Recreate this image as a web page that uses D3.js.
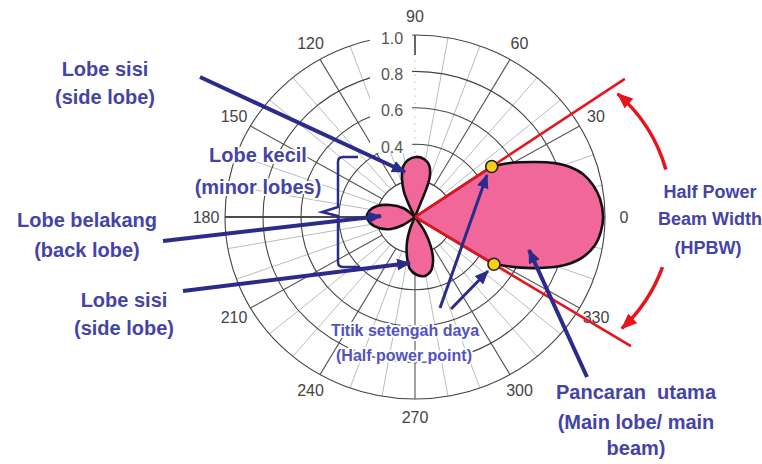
<!DOCTYPE html>
<html><head><meta charset="utf-8">
<script src="https://cdn.jsdelivr.net/npm/d3@7"></script>
<style>
html,body{margin:0;padding:0;background:#fff;}
svg{display:block;font-family:"Liberation Sans",Arial,sans-serif;}
</style></head>
<body>
<svg id="chart" width="762" height="464"></svg>
<script>
// ---------- DATA ----------
const angleTicks = [0,30,60,90,120,150,180,210,240,270,300,330];
const angleTickLabels = ["0","30","60","90","120","150","180","210","240","270","300","330"];
const radialTicks = [0.2,0.4,0.6,0.8,1.0];
const radialTickLabels = ["","0.4","0.6","0.8","1.0"];

// main lobe outline (degrees, normalized field)
const mainAngles = [34.5,30.7,25.6,21.9,18.6,15.0,10.6,5.8,0,-4.5,-9.2,-14.0,-18.5,-23.1,-27.6,-32];
const mainR      = [0.49,0.581,0.700,0.794,0.861,0.915,0.953,0.979,0.99,0.982,0.960,0.911,0.832,0.715,0.594,0.49];
// upper side lobe
const upperAngles = [120,115.6,112.8,108.1,103.0,96.7,89.1,81.5,75.5,71.1,69.0,69.0,65];
const upperR      = [0,0.073,0.149,0.220,0.282,0.315,0.330,0.322,0.295,0.244,0.177,0.088,0];
// back lobe
const backAngles = [135,142,153.4,163.2,172.2,180,187.9,197.7,207.6,214.8,225];
const backR      = [0,0.080,0.147,0.209,0.244,0.253,0.239,0.199,0.142,0.077,0];
// lower side lobe
const lowerAngles = [245,248.2,253,259.2,264.7,271.9,279.2,285.8,291.4,297.1,302.6,305];
const lowerR      = [0,0.071,0.144,0.224,0.287,0.319,0.328,0.308,0.260,0.185,0.098,0];
// half power points & beam edge lines
const hpAngles = [34.5,-32];
const hpR      = [0.49,0.49];
const beamLineR = [1.34,1.34];

// ---------- LAYOUT ----------
const cx = 415, cy = 217, RX = 190, RY = 182;
const svg = d3.select("#chart");
const x = d3.scaleLinear().domain([-1,1]).range([cx-RX, cx+RX]);
const y = d3.scaleLinear().domain([-1,1]).range([cy+RY, cy-RY]);
const rad = a => a*Math.PI/180;
const px = (a,r) => x(r*Math.cos(rad(a)));
const py = (a,r) => y(r*Math.sin(rad(a)));

const grid = svg.append("g");
// spokes every 10 degrees
d3.range(0,360,10).forEach(a=>{
  const major = a%30===0;
  if (a===90) {
    grid.append("line").attr("x1",px(a,0.2)).attr("y1",py(a,0.2)).attr("x2",px(a,0.88)).attr("y2",py(a,0.88))
      .attr("stroke","#999").attr("stroke-width",1).attr("stroke-dasharray","1,6");
    grid.append("line").attr("x1",px(a,0.89)).attr("y1",py(a,0.89)).attr("x2",px(a,1)).attr("y2",py(a,1))
      .attr("stroke","#333").attr("stroke-width",1.5);
    return;
  }
  grid.append("line")
    .attr("x1",px(a, a===180?0.15:0.2)).attr("y1",py(a,a===180?0.15:0.2))
    .attr("x2",px(a,1)).attr("y2",py(a,1))
    .attr("stroke", a===180 ? "#111" : (major ? "#555" : "#aaa"))
    .attr("stroke-width", a===180 ? 1.4 : (major ? 1.1 : 0.8));
});
// rings
radialTicks.forEach(r=>{
  grid.append("ellipse").attr("cx",x(0)).attr("cy",y(0))
    .attr("rx",x(r)-x(0)).attr("ry",y(0)-y(r))
    .attr("fill","none").attr("stroke","#444").attr("stroke-width",1.1);
});
// clear area behind radial labels
grid.append("rect").attr("x",370).attr("y",y(1)-9).attr("width",42).attr("height",y(0.4)-y(1)+18).attr("fill","#fff");
radialTicks.forEach((r,i)=>{
  if(!radialTickLabels[i]) return;
  grid.append("text").attr("x",392).attr("y",y(r)+3)
    .attr("text-anchor","middle").attr("dominant-baseline","central")
    .attr("font-size",16).attr("fill","#555").text(radialTickLabels[i]);
});
angleTicks.forEach((a,i)=>{
  grid.append("text").attr("x",px(a,1.1)).attr("y",py(a,1.1))
    .attr("text-anchor","middle").attr("dominant-baseline","central")
    .attr("font-size",16).attr("fill","#444").text(angleTickLabels[i]);
});

// ---------- LOBES ----------
const line = d3.line().x(d=>px(d[0],d[1])).y(d=>py(d[0],d[1])).curve(d3.curveCatmullRom.alpha(0.5));
const lobeStyle = sel => sel.attr("fill","#f2679a").attr("stroke","#111").attr("stroke-width",2.6).attr("stroke-linejoin","round");
[[upperAngles,upperR],[backAngles,backR],[lowerAngles,lowerR]].forEach(([A,R])=>{
  const pts = A.map((a,i)=>[a,R[i]]);
  svg.append("path").attr("d", line(pts)+"Z").call(lobeStyle);
});
const mainPts = mainAngles.map((a,i)=>[a,mainR[i]]);
svg.append("path").attr("d", `M${x(0)},${y(0)}L` + line(mainPts).slice(1) + "Z").call(lobeStyle);

// beam edge red lines
hpAngles.forEach((a,i)=>{
  svg.append("line").attr("x1",x(0)).attr("y1",y(0)).attr("x2",px(a,beamLineR[i])).attr("y2",py(a,beamLineR[i]))
    .attr("stroke","#e8141c").attr("stroke-width",2.6);
});

// ---------- ANNOTATIONS ----------
const defs = svg.append("defs");
function marker(id,color,w,h){
  defs.append("marker").attr("id",id).attr("viewBox",`0 0 ${w} ${h}`).attr("refX",w-1).attr("refY",h/2)
    .attr("markerWidth",w).attr("markerHeight",h).attr("markerUnits","userSpaceOnUse").attr("orient","auto")
    .append("path").attr("d",`M0,0L${w},${h/2}L0,${h}Z`).attr("fill",color);
}
marker("ab","#2b2b8c",14,12);
marker("ar","#e8141c",16,13);

// HPBW arc
const arcC = [514,213], arcR = 158;
function arcPath(a0,a1){
  const p = d3.path();
  p.arc(arcC[0],arcC[1],arcR,-rad(a0),-rad(a1),a1>a0);
  return p.toString();
}
svg.append("path").attr("d",arcPath(16,49)).attr("fill","none").attr("stroke","#e8141c").attr("stroke-width",3.5).attr("marker-end","url(#ar)");
svg.append("path").attr("d",arcPath(-20,-47)).attr("fill","none").attr("stroke","#e8141c").attr("stroke-width",3.5).attr("marker-end","url(#ar)");

// texts (drawn with white halo, beneath arrows)
const texts = [
  ["Lobe sisi",105,69,20],["(side lobe)",105,97,20],
  ["Lobe kecil",258,155,20],["(minor lobes)",258,187,20],
  ["Lobe belakang",87,220,20],["(back lobe)",87,250,20],
  ["Lobe sisi",124,300,20],["(side lobe)",124,328,20],
  ["Titik setengah daya",405,330,16],["(Half power point)",404,355,16],
  ["Pancaran  utama",636,392,20],["(Main lobe/ main",636,422,20],["beam)",636,448,20],
  ["Half Power",710,192,18],["Beam Width",710,219,18],["(HPBW)",708,248,18]
];
texts.forEach(([t,tx,ty,fs])=>{
  svg.append("text").attr("x",tx).attr("y",ty).attr("text-anchor","middle").attr("dominant-baseline","central")
    .attr("font-size",fs).attr("font-weight","bold").attr("fill", fs===16 ? "#5252c2" : "#4444a6")
    .attr("stroke","#fff").attr("stroke-width",4).attr("stroke-linejoin","round").attr("paint-order","stroke")
    .attr("xml:space","preserve").style("white-space","pre").text(t);
});

// minor lobes bracket
svg.append("path").attr("d","M358,157H343Q338,157 338,162V207L322,212L338,216V262Q338,267 343,267H360")
  .attr("fill","none").attr("stroke","#2b2b8c").attr("stroke-width",2.5);

// blue arrows
const arrows = [
  [200,77,405,172,4],[163,241,381,216,4],[183,291,410,263,4],
  [440,308,487,175,3],[451,309,488,271,3],[587,377,529,250,4]
];
arrows.forEach(([x1,y1,x2,y2,w])=>{
  svg.append("line").attr("x1",x1).attr("y1",y1).attr("x2",x2).attr("y2",y2)
    .attr("stroke","#2b2b8c").attr("stroke-width",w).attr("marker-end","url(#ab)");
});

// half power points
hpAngles.forEach((a,i)=>{
  svg.append("circle").attr("cx",px(a,hpR[i])).attr("cy",py(a,hpR[i])).attr("r",6)
    .attr("fill","#f5cf1a").attr("stroke","#222").attr("stroke-width",1.6);
});
</script>
</body></html>
